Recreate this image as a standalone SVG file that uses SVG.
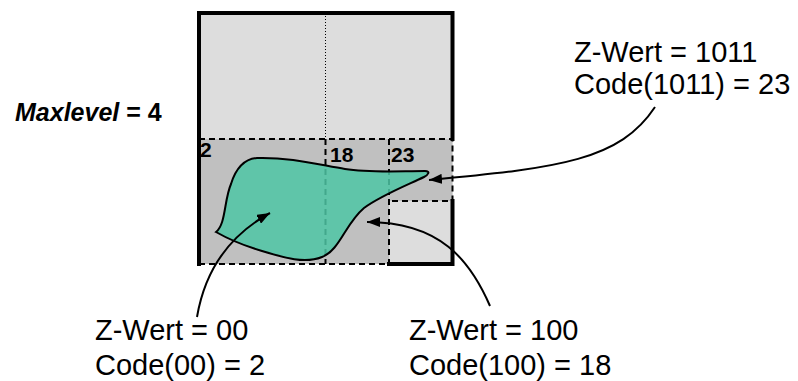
<svg xmlns="http://www.w3.org/2000/svg" width="798" height="381" viewBox="0 0 798 381">
<style>
.lbl{font-family:"Liberation Sans",Arial,sans-serif;font-size:29px;fill:#000}
.num{font-family:"Liberation Sans",Arial,sans-serif;font-size:21px;font-weight:bold;fill:#000}
.dash{fill:none;stroke:#000;stroke-width:2;stroke-dasharray:6,4}
.con{fill:none;stroke:#000;stroke-width:2;marker-end:url(#ah)}
</style>
<defs>
<marker id="ah" markerUnits="userSpaceOnUse" markerWidth="14" markerHeight="10" refX="13" refY="5" orient="auto">
<path d="M0,0 L13,5 L0,10 Z" fill="#000"/>
</marker>
</defs>
<rect width="798" height="381" fill="#fff"/>
<g id="grid">
<rect x="199" y="13" width="253.5" height="251" fill="#dddddd"/>
<path d="M199,139 H452.5 V201 H389 V264 H199 Z" fill="#c0c0c0"/>
<line x1="325.5" y1="13" x2="325.5" y2="139" stroke="#000" stroke-width="1" stroke-dasharray="1,2"/>
<path class="dash" d="M199,139 H452.5 V201 H389"/>
<line class="dash" x1="325.5" y1="139" x2="325.5" y2="264"/>
<line class="dash" x1="389" y1="139" x2="389" y2="264"/>
<line class="dash" x1="199" y1="264" x2="389" y2="264"/>
</g>
<g id="region">
<path d="M216,232 C226,224 224,200 231,184 C236,168 244,159 257,158 C290,157 320,165 345,169 C370,173 400,171 425,171 C431,171 428,175 424,177 C405,186 380,196 364,208 C345,224 340,250 322,257 C305,264 285,258 262,251 C245,246 230,240 216,232 Z" fill="#4dc5a4" fill-opacity="0.85" stroke="#000" stroke-width="2"/>
</g>
<g id="frame">
<path d="M199,264 V13 H452.5 V139 M452.5,201 V264 H389" fill="none" stroke="#000" stroke-width="4" stroke-linecap="square"/>
</g>
<g id="cells">
<text class="num" x="200" y="157">2</text>
<text class="num" x="330" y="162">18</text>
<text class="num" x="391" y="162">23</text>
</g>
<g id="maxlevel">
<text x="15" y="121" font-family="Liberation Sans, Arial, sans-serif" font-size="25" font-weight="bold"><tspan font-style="italic">Maxlevel</tspan> = 4</text>
</g>
<g id="label1011">
<text class="lbl" x="574" y="62">Z-Wert = 1011</text>
<text class="lbl" x="574" y="94">Code(1011) = 23</text>
</g>
<g id="label00">
<text class="lbl" x="95" y="340">Z-Wert = 00</text>
<text class="lbl" x="95" y="375">Code(00) = 2</text>
</g>
<g id="label100">
<text class="lbl" x="409" y="340">Z-Wert = 100</text>
<text class="lbl" x="409" y="375">Code(100) = 18</text>
</g>
<g id="connectors">
<path class="con" d="M655,107 C620,160 560,168 429,180"/>
<path class="con" d="M197,317 C205,270 230,235 270,213"/>
<path class="con" d="M490,306 C470,260 440,222 367,222"/>
</g>
</svg>
